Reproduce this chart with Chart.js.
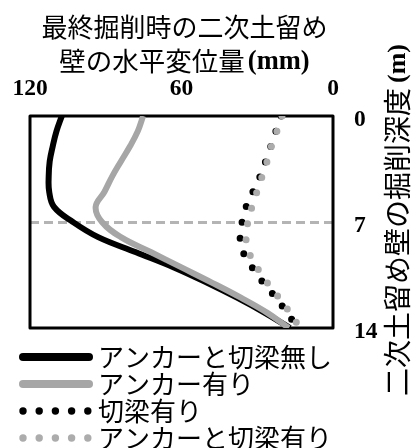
<!DOCTYPE html>
<html lang="ja">
<head>
<meta charset="utf-8"/>
<title>最終掘削時の二次土留め壁の水平変位量</title>
<script src="https://cdn.jsdelivr.net/npm/chart.js"></script>
<style>
  html, body { margin: 0; padding: 0; background: #fff; }
</style>
</head>
<body>
<canvas id="grafik" width="411" height="448"></canvas>
<script>
// 掘削深度 (m)
const depths = [0, 1, 2, 3, 4, 5, 6, 7, 8, 9, 10, 11, 12, 13, 14];
// 水平変位量 (mm)
const noSupport   = [107.4, 109.5, 111, 112.2, 112.6, 112.4, 110.5, 103, 93, 78, 63, 50, 38, 27, 17];
const anchor      = [75.2, 77.3, 80.4, 84, 87.5, 90.5, 94, 91.5, 84, 72, 60, 48, 36.5, 26, 17.5];
const strut       = [20.5, 22.6, 24.6, 26.7, 28.9, 31.7, 34.4, 36, 36.8, 35.6, 32, 27.7, 22.6, 18.2, 13.9];
const anchorStrut = [20.2, 22.2, 24.4, 26.1, 28.1, 30.1, 32.1, 33.7, 34.5, 33.3, 30.1, 26.1, 21.4, 17, 13.1];

const seriesNames = ['アンカーと切梁無し', 'アンカー有り', '切梁有り', 'アンカーと切梁有り'];
const xTicks = [0, 60, 120];
const yTicks = [0, 7, 14];
const excavation = 7;

const xTitle = ['最終掘削時の二次土留め', '壁の水平変位量'];
const xUnit = '(mm)';
const yTitle = '二次土留め壁の掘削深度';
const yUnit = '(m)';

const CJK = '"Noto Sans CJK JP", "Noto Sans CJK SC", sans-serif';
const SERIF = '"Liberation Serif", "Times New Roman", serif';

function pts(vals) {
  return vals.map((v, i) => ({ x: v, y: depths[i] }));
}

const bingkai = {
  id: 'bingkai',
  beforeDatasetsDraw(chart) {
    const { ctx, chartArea: a } = chart;
    ctx.save();
    ctx.lineWidth = 3;
    ctx.lineJoin = 'round';
    ctx.strokeStyle = '#000';
    ctx.strokeRect(a.left, a.top, a.right - a.left, a.bottom - a.top);
    ctx.restore();
  }
};

// 凡例の線・点 (凡例の文字と位置は Chart.js の legend に任せる)
const contoh = {
  id: 'contoh',
  afterDraw(chart) {
    const lg = chart.legend;
    const ctx = chart.ctx;
    ctx.save();
    lg.legendItems.forEach((it, i) => {
      const hb = lg.legendHitBoxes[i];
      const ds = chart.data.datasets[it.datasetIndex];
      const y = hb.top + hb.height / 2;
      const x0 = hb.left + 2;
      ctx.strokeStyle = ds.borderColor;
      ctx.fillStyle = ds.borderColor;
      if (ds.borderDash) {
        for (let k = 0; k < 5; k++) {
          ctx.beginPath();
          ctx.arc(x0 + k * 16.2, y, 3.7, 0, Math.PI * 2);
          ctx.fill();
        }
      } else {
        ctx.lineWidth = 8;
        ctx.lineCap = 'round';
        ctx.beginPath();
        ctx.moveTo(x0, y);
        ctx.lineTo(x0 + 66, y);
        ctx.stroke();
      }
    });
    ctx.restore();
  }
};

const judul = {
  id: 'judul',
  afterDraw(chart) {
    const { ctx, chartArea } = chart;
    ctx.save();
    ctx.fillStyle = '#000';
    ctx.textBaseline = 'middle';
    const cx = (chartArea.left + chartArea.right) / 2 + 3;

    ctx.textAlign = 'center';
    ctx.font = '26px ' + CJK;
    ctx.fillText(xTitle[0], cx, 27);

    ctx.textAlign = 'left';
    ctx.font = '26.5px ' + CJK;
    const w1 = ctx.measureText(xTitle[1]).width;
    ctx.font = 'bold 26.5px ' + SERIF;
    const w2 = ctx.measureText(xUnit).width;
    const x0 = cx - (w1 + 3 + w2) / 2;
    ctx.font = '26.5px ' + CJK;
    ctx.fillText(xTitle[1], x0, 61);
    ctx.font = 'bold 26.5px ' + SERIF;
    ctx.fillText(xUnit, x0 + w1 + 3, 62);

    ctx.translate(397, 396);
    ctx.rotate(-Math.PI / 2);
    ctx.font = '28px ' + CJK;
    ctx.fillText(yTitle, 0, 0);
    const w3 = ctx.measureText(yTitle).width;
    ctx.font = 'bold 26px ' + SERIF;
    ctx.fillText(yUnit, w3 + 5, 1);
    ctx.restore();
  }
};

const tickFont = { family: SERIF, size: 23.5, weight: 'bold' };

new Chart(document.getElementById('grafik'), {
  type: 'line',
  data: {
    datasets: [
      { label: seriesNames[0], data: pts(noSupport), borderColor: '#000', borderWidth: 6, tension: 0.4, order: 2 },
      { label: seriesNames[1], data: pts(anchor), borderColor: '#a6a6a6', borderWidth: 6, tension: 0.4, order: 1 },
      { label: seriesNames[2], data: pts(strut), borderColor: '#000', borderWidth: 7, tension: 0.3,
        borderDash: [0, 16.2], borderCapStyle: 'round', order: 2 },
      { label: seriesNames[3], data: pts(anchorStrut), borderColor: '#acacac', borderWidth: 7, tension: 0.3,
        borderDash: [0, 16.2], borderCapStyle: 'round', order: 1 }
    ]
  },
  options: {
    responsive: false,
    animation: false,
    elements: { point: { radius: 0 } },
    layout: { padding: { left: 20, top: 0, right: 0, bottom: 0 } },
    scales: {
      x: {
        type: 'linear', position: 'top', min: 0, max: 120, reverse: true,
        afterBuildTicks: s => { s.ticks = xTicks.map(v => ({ value: v })); },
        afterFit: s => { s.height = 116; },
        grid: { display: false, drawTicks: false },
        border: { display: false },
        ticks: { font: tickFont, color: '#000', padding: 13, maxRotation: 0 }
      },
      y: {
        type: 'linear', position: 'right', min: 0, max: 14, reverse: true,
        afterBuildTicks: s => { s.ticks = yTicks.map(v => ({ value: v })); },
        afterFit: s => { s.width = 78; },
        grid: {
          drawTicks: false, lineWidth: 3,
          color: c => (c.tick && c.tick.value === excavation) ? '#b4b4b4' : 'rgba(0,0,0,0)'
        },
        border: { display: false, dash: [9, 5] },
        ticks: { font: tickFont, color: '#000', padding: 21, labelOffset: 4 }
      },
      kiri: {
        type: 'linear', position: 'left',
        afterFit: s => { s.width = 10; },
        grid: { display: false }, border: { display: false }, ticks: { display: false }
      },
      bawah: {
        type: 'linear', position: 'bottom',
        afterFit: s => { s.height = 15; },
        grid: { display: false }, border: { display: false }, ticks: { display: false }
      }
    },
    plugins: {
      tooltip: { enabled: false },
      legend: {
        position: 'bottom',
        align: 'start',
        maxHeight: 105,
        labels: {
          usePointStyle: true,
          pointStyleWidth: 64,
          padding: 1,
          color: '#000',
          font: { family: CJK, size: 26 },
          sort: (a, b) => a.datasetIndex - b.datasetIndex,
          generateLabels(chart) {
            const items = Chart.defaults.plugins.legend.labels.generateLabels(chart);
            return items.map(it => {
              it.pointStyle = 'line';
              it.strokeStyle = 'rgba(0,0,0,0)';
              it.fillStyle = 'rgba(0,0,0,0)';
              it.lineWidth = 0;
              return it;
            });
          }
        }
      }
    }
  },
  plugins: [bingkai, judul, contoh]
});
</script>
</body>
</html>
